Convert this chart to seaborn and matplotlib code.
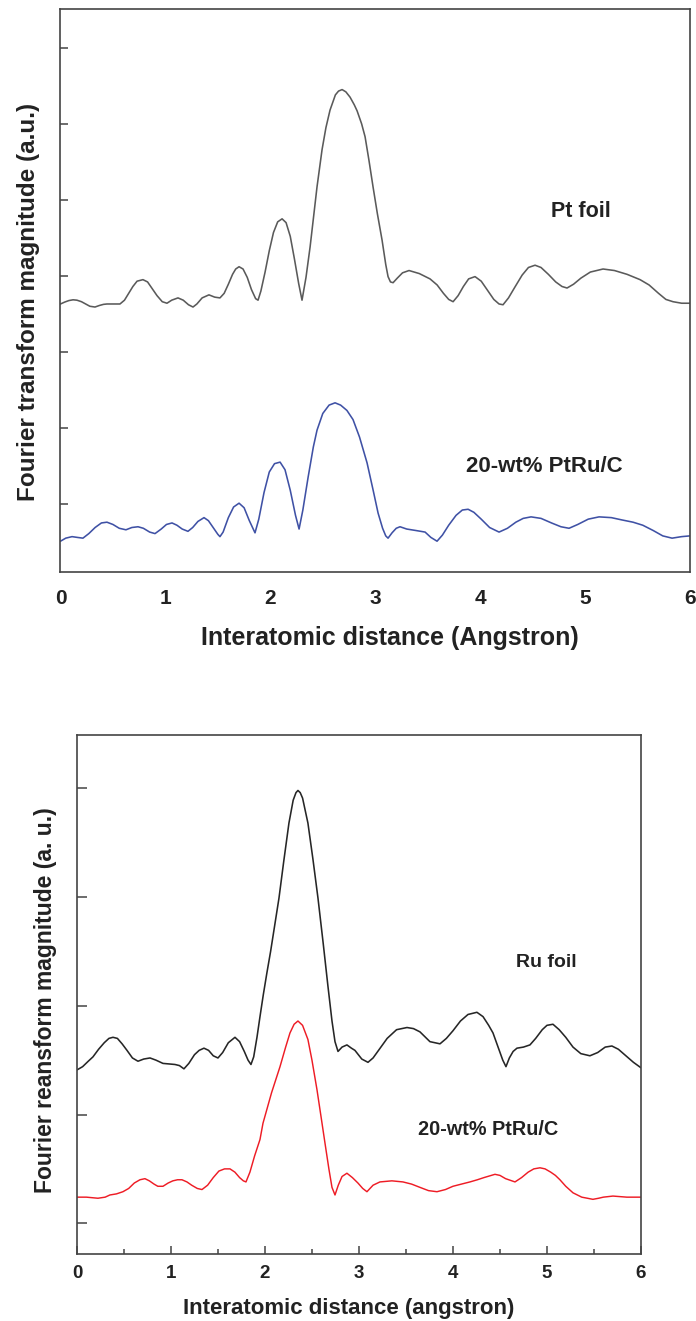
import numpy as np
import pandas as pd
import matplotlib
matplotlib.use("Agg")
import matplotlib.pyplot as plt
import seaborn as sns
from matplotlib.ticker import MultipleLocator

sns.set_style("white")
plt.rcParams['font.family'] = ['Liberation Sans', 'DejaVu Sans']

# ---------------- Top panel data (Pt L3 edge) ----------------
pt_foil_x = [0.00, 0.04, 0.08, 0.12, 0.157, 0.20, 0.24, 0.28, 0.329, 0.37, 0.41, 0.443, 0.50, 0.567,
             0.61, 0.65, 0.69, 0.73, 0.786, 0.83, 0.87, 0.92, 0.97, 1.015, 1.06, 1.12, 1.17, 1.22,
             1.263, 1.30, 1.35, 1.415, 1.47, 1.52, 1.56, 1.60, 1.64, 1.67, 1.702, 1.74, 1.78, 1.82,
             1.86, 1.883, 1.91, 1.95, 1.99, 2.03, 2.07, 2.112, 2.15, 2.19, 2.23, 2.27, 2.302, 2.34,
             2.379, 2.41, 2.445, 2.493, 2.53, 2.569, 2.62, 2.65, 2.684, 2.72, 2.76, 2.80, 2.827, 2.87,
             2.903, 2.94, 2.979, 3.02, 3.065, 3.10, 3.122, 3.145, 3.17, 3.21, 3.26, 3.322, 3.42, 3.522,
             3.59, 3.65, 3.70, 3.742, 3.79, 3.84, 3.89, 3.951, 4.01, 4.07, 4.13, 4.18, 4.218, 4.27,
             4.33, 4.40, 4.46, 4.523, 4.58, 4.65, 4.72, 4.78, 4.828, 4.89, 4.96, 5.05, 5.171, 5.28,
             5.40, 5.524, 5.61, 5.70, 5.77, 5.838, 5.92, 6.00]
pt_foil_y = [3.63, 3.655, 3.675, 3.685, 3.68, 3.66, 3.63, 3.60, 3.59, 3.61, 3.625, 3.63, 3.63, 3.63,
             3.68, 3.77, 3.86, 3.93, 3.95, 3.92, 3.84, 3.74, 3.66, 3.64, 3.68, 3.71, 3.68, 3.62,
             3.59, 3.63, 3.71, 3.75, 3.72, 3.71, 3.77, 3.89, 4.02, 4.09, 4.12, 4.09, 3.98, 3.82,
             3.70, 3.68, 3.80, 4.05, 4.33, 4.57, 4.71, 4.75, 4.70, 4.52, 4.22, 3.90, 3.68, 3.98,
             4.38, 4.75, 5.17, 5.66, 5.95, 6.18, 6.38, 6.43, 6.45, 6.42, 6.35, 6.25, 6.17, 6.00,
             5.83, 5.52, 5.17, 4.82, 4.47, 4.15, 3.99, 3.92, 3.91, 3.97, 4.04, 4.07, 4.03, 3.96,
             3.88, 3.77, 3.69, 3.66, 3.74, 3.86, 3.96, 3.99, 3.93, 3.81, 3.69, 3.63, 3.62, 3.71,
             3.85, 4.01, 4.11, 4.14, 4.11, 4.02, 3.92, 3.86, 3.84, 3.89, 3.97, 4.05, 4.09, 4.07,
             4.02, 3.95, 3.88, 3.77, 3.69, 3.66, 3.64, 3.64]

ptru_top_x = [0.00, 0.05, 0.11, 0.16, 0.214, 0.27, 0.33, 0.39, 0.443, 0.50, 0.56, 0.624, 0.68, 0.739,
              0.79, 0.85, 0.901, 0.96, 1.01, 1.063, 1.11, 1.16, 1.215, 1.26, 1.31, 1.368, 1.41, 1.46,
              1.50, 1.52, 1.55, 1.60, 1.65, 1.702, 1.75, 1.80, 1.854, 1.89, 1.94, 1.99, 2.04, 2.093,
              2.14, 2.19, 2.24, 2.274, 2.31, 2.36, 2.41, 2.445, 2.50, 2.56, 2.617, 2.67, 2.73, 2.788,
              2.85, 2.922, 2.98, 3.027, 3.07, 3.10, 3.122, 3.16, 3.20, 3.236, 3.30, 3.39, 3.475, 3.53,
              3.589, 3.64, 3.70, 3.77, 3.83, 3.885, 3.94, 4.01, 4.09, 4.18, 4.26, 4.34, 4.41, 4.485,
              4.58, 4.68, 4.77, 4.847, 4.93, 5.03, 5.133, 5.25, 5.35, 5.457, 5.55, 5.65, 5.74, 5.829,
              5.92, 6.00]
ptru_top_y = [0.51, 0.55, 0.57, 0.56, 0.55, 0.61, 0.69, 0.75, 0.76, 0.73, 0.68, 0.66, 0.69, 0.70,
              0.68, 0.63, 0.61, 0.67, 0.73, 0.75, 0.72, 0.67, 0.64, 0.69, 0.77, 0.82, 0.78, 0.68,
              0.60, 0.57, 0.63, 0.82, 0.96, 1.01, 0.95, 0.78, 0.62, 0.80, 1.15, 1.42, 1.53, 1.55,
              1.45, 1.18, 0.85, 0.67, 0.92, 1.35, 1.75, 1.97, 2.19, 2.30, 2.33, 2.30, 2.23, 2.11,
              1.88, 1.54, 1.18, 0.88, 0.68, 0.58, 0.55, 0.62, 0.68, 0.70, 0.67, 0.65, 0.63, 0.56,
              0.51, 0.59, 0.72, 0.85, 0.92, 0.93, 0.89, 0.80, 0.69, 0.63, 0.68, 0.76, 0.81, 0.83,
              0.81, 0.75, 0.70, 0.68, 0.73, 0.80, 0.83, 0.82, 0.79, 0.76, 0.72, 0.65, 0.58, 0.55,
              0.57, 0.58]

# ---------------- Bottom panel data (Ru K edge) ----------------
ru_foil_x = [0.00, 0.06, 0.12, 0.17, 0.23, 0.29, 0.34, 0.383, 0.43, 0.48, 0.532, 0.59, 0.649, 0.71,
             0.777, 0.84, 0.915, 0.98, 1.043, 1.09, 1.138, 1.19, 1.25, 1.30, 1.351, 1.40, 1.45, 1.500,
             1.55, 1.61, 1.681, 1.73, 1.78, 1.82, 1.851, 1.88, 1.915, 1.947, 1.982, 2.02, 2.06, 2.10,
             2.149, 2.20, 2.255, 2.30, 2.33, 2.351, 2.375, 2.40, 2.457, 2.51, 2.564, 2.62, 2.670, 2.713,
             2.745, 2.777, 2.82, 2.872, 2.92, 2.957, 3.03, 3.096, 3.15, 3.20, 3.30, 3.40, 3.511, 3.58,
             3.649, 3.755, 3.862, 3.93, 4.00, 4.08, 4.16, 4.255, 4.32, 4.38, 4.426, 4.48, 4.53, 4.564,
             4.60, 4.64, 4.681, 4.75, 4.819, 4.88, 4.95, 5.00, 5.064, 5.13, 5.20, 5.277, 5.36, 5.457,
             5.54, 5.62, 5.691, 5.76, 5.84, 5.92, 6.00]
ru_foil_y = [2.41, 2.44, 2.49, 2.53, 2.60, 2.66, 2.70, 2.71, 2.70, 2.65, 2.59, 2.52, 2.49, 2.51,
             2.52, 2.50, 2.47, 2.465, 2.46, 2.45, 2.42, 2.47, 2.55, 2.59, 2.61, 2.59, 2.54, 2.52,
             2.57, 2.66, 2.71, 2.67, 2.58, 2.50, 2.46, 2.53, 2.71, 2.90, 3.10, 3.30, 3.50, 3.72,
             3.99, 4.33, 4.68, 4.89, 4.96, 4.98, 4.96, 4.91, 4.68, 4.35, 3.99, 3.57, 3.18, 2.86,
             2.67, 2.58, 2.62, 2.64, 2.61, 2.59, 2.51, 2.48, 2.52, 2.58, 2.70, 2.78, 2.80, 2.79,
             2.76, 2.67, 2.65, 2.70, 2.77, 2.86, 2.92, 2.94, 2.90, 2.82, 2.75, 2.62, 2.50, 2.44,
             2.52, 2.58, 2.61, 2.62, 2.64, 2.70, 2.78, 2.82, 2.83, 2.78, 2.71, 2.62, 2.56, 2.54,
             2.57, 2.62, 2.63, 2.60, 2.54, 2.48, 2.43]

ptru_bot_x = [0.00, 0.10, 0.223, 0.30, 0.35, 0.42, 0.489, 0.55, 0.61, 0.67, 0.723, 0.77, 0.82, 0.86,
              0.915, 0.97, 1.02, 1.07, 1.117, 1.17, 1.22, 1.28, 1.330, 1.39, 1.45, 1.51, 1.57, 1.628,
              1.68, 1.73, 1.77, 1.798, 1.84, 1.89, 1.947, 1.979, 2.07, 2.160, 2.22, 2.266, 2.31, 2.351,
              2.40, 2.457, 2.50, 2.553, 2.60, 2.638, 2.68, 2.713, 2.745, 2.78, 2.82, 2.872, 2.93, 2.989,
              3.04, 3.085, 3.15, 3.223, 3.35, 3.468, 3.56, 3.649, 3.74, 3.830, 3.92, 4.00, 4.09, 4.181,
              4.26, 4.33, 4.447, 4.50, 4.56, 4.660, 4.73, 4.80, 4.86, 4.926, 4.98, 5.04, 5.09, 5.138,
              5.20, 5.277, 5.37, 5.43, 5.489, 5.55, 5.60, 5.702, 5.85, 6.00]
ptru_bot_y = [1.24, 1.24, 1.23, 1.24, 1.26, 1.27, 1.29, 1.32, 1.37, 1.40, 1.41, 1.39, 1.36, 1.34,
              1.34, 1.37, 1.39, 1.40, 1.40, 1.38, 1.35, 1.32, 1.31, 1.35, 1.42, 1.48, 1.50, 1.50,
              1.47, 1.42, 1.39, 1.38, 1.47, 1.62, 1.77, 1.92, 2.20, 2.44, 2.62, 2.75, 2.83, 2.86,
              2.82, 2.69, 2.50, 2.23, 1.96, 1.74, 1.50, 1.33, 1.26, 1.35, 1.43, 1.46, 1.42, 1.37,
              1.32, 1.29, 1.35, 1.38, 1.39, 1.38, 1.36, 1.33, 1.30, 1.29, 1.31, 1.34, 1.36, 1.38,
              1.40, 1.42, 1.45, 1.44, 1.41, 1.38, 1.42, 1.47, 1.50, 1.51, 1.50, 1.47, 1.44, 1.40,
              1.34, 1.28, 1.24, 1.23, 1.22, 1.23, 1.24, 1.25, 1.24, 1.24]

x_ticks = [0, 1, 2, 3, 4, 5, 6]
top_yticks = [1, 2, 3, 4, 5, 6, 7]
bot_yticks = [1, 2, 3, 4, 5]

TXT = "#222222"
SPINE = "#444444"

fig = plt.figure(figsize=(6.96, 13.21), dpi=100)
ax1 = fig.add_axes([0.0869, 0.5670, 0.9045, 0.4262])
ax2 = fig.add_axes([0.1106, 0.0507, 0.8103, 0.3929])

df_pt = pd.DataFrame({"x": pt_foil_x, "y": pt_foil_y})
df_pr1 = pd.DataFrame({"x": ptru_top_x, "y": ptru_top_y})
df_ru = pd.DataFrame({"x": ru_foil_x, "y": ru_foil_y})
df_pr2 = pd.DataFrame({"x": ptru_bot_x, "y": ptru_bot_y})

line_kw = dict(estimator=None, solid_joinstyle="round", solid_capstyle="round")
sns.lineplot(data=df_pt, x="x", y="y", ax=ax1, color="#5a5a5a", lw=1.15, **line_kw)
sns.lineplot(data=df_pr1, x="x", y="y", ax=ax1, color="#3f51a5", lw=1.15, **line_kw)
sns.lineplot(data=df_ru, x="x", y="y", ax=ax2, color="#262626", lw=1.15, **line_kw)
sns.lineplot(data=df_pr2, x="x", y="y", ax=ax2, color="#ee1c25", lw=1.05, **line_kw)

# Top axes styling
ax1.set_xlim(0, 6)
ax1.set_ylim(0.105, 7.51)
ax1.set_xticks(x_ticks)
ax1.set_yticks(top_yticks)
ax1.set_yticklabels([])
ax1.tick_params(axis="x", direction="in", length=7.5, width=1.1, color=SPINE, pad=12,
                labelsize=15, labelcolor=TXT)
ax1.tick_params(axis="y", direction="in", length=6, width=1.1, color=SPINE, left=True)
for lab in ax1.get_xticklabels():
    lab.set_fontweight("bold")
ax1.set_xlabel("Interatomic distance (Angstron)", fontsize=18, fontweight="bold", color=TXT)
ax1.set_ylabel("Fourier transform magnitude (a.u.)", fontsize=17.5, fontweight="bold", color=TXT)
ax1.xaxis.set_label_coords(0.523, -0.096)
ax1.yaxis.set_label_coords(-0.032, 0.48)
ax1.text(4.96, 4.84, "Pt foil", fontsize=15.5, fontweight="bold", color=TXT, ha="center", va="center")
ax1.text(4.61, 1.49, "20-wt% PtRu/C", fontsize=16, fontweight="bold", color=TXT, ha="center", va="center")

# Bottom axes styling
ax2.set_xlim(0, 6)
ax2.set_ylim(0.717, 5.49)
ax2.set_xticks(x_ticks)
ax2.xaxis.set_minor_locator(MultipleLocator(0.5))
ax2.set_yticks(bot_yticks)
ax2.set_yticklabels([])
ax2.tick_params(axis="x", which="major", direction="in", length=6, width=1.1, color=SPINE, pad=8,
                labelsize=13.5, labelcolor=TXT, bottom=True)
ax2.tick_params(axis="x", which="minor", direction="in", length=3.5, width=1.1, color=SPINE, bottom=True)
ax2.tick_params(axis="y", direction="in", length=7, width=1.1, color=SPINE, left=True)
for lab in ax2.get_xticklabels():
    lab.set_fontweight("bold")
ax2.set_xlabel("Interatomic distance (angstron)", fontsize=16, fontweight="bold", color=TXT)
ax2.set_ylabel("Fourier reansform magnitude (a. u.)", fontsize=16.5, fontweight="bold", color=TXT)
ax2.xaxis.set_label_coords(0.482, -0.085)
ax2.yaxis.set_label_coords(-0.036, 0.49)
ax2.text(4.99, 3.40, "Ru foil", fontsize=14, fontweight="bold", color=TXT, ha="center", va="center")
ax2.text(4.37, 1.86, "20-wt% PtRu/C", fontsize=14.3, fontweight="bold", color=TXT, ha="center", va="center")

for ax in (ax1, ax2):
    for s in ax.spines.values():
        s.set_color(SPINE)
        s.set_linewidth(1.2)
        s.set_visible(True)

fig.savefig("out.png", dpi=100, facecolor="white")
